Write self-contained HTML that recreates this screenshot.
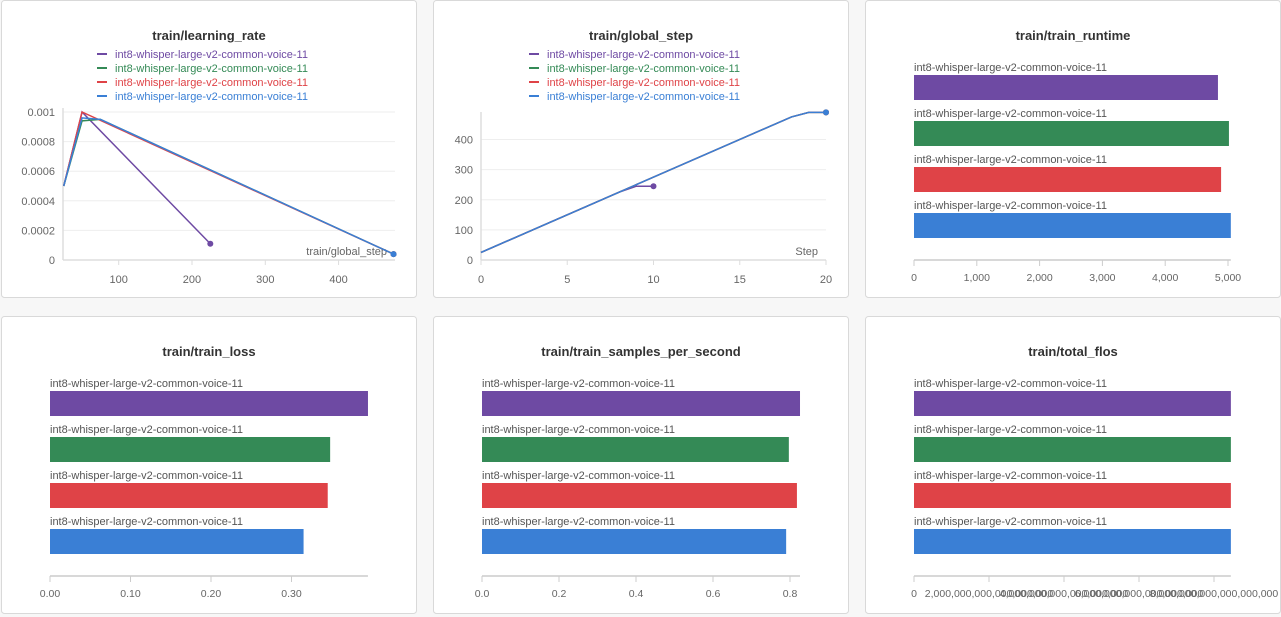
<!DOCTYPE html>
<html><head><meta charset="utf-8">
<style>
body{margin:0;background:#f7f7f7;font-family:"Liberation Sans",sans-serif;}
svg{position:absolute;left:0;top:0}
</style></head>
<body>
<svg id="s" width="1281" height="617"></svg>
<script>
const runName="int8-whisper-large-v2-common-voice-11";
const colors=["#6e4aa3","#348a56","#df4347","#3a7fd5"];
// chart 1: learning rate
const lrX=[[25,50,225],[25,50,75,475],[25,50,475],[25,50,75,475]];
const lrY=[[0.0005,0.001,0.00011],[0.0005,0.00094,0.00095,0.00004],[0.0005,0.001,0.00004],[0.0005,0.00096,0.00095,0.00004]];
const lrXTicks=[100,200,300,400];
const lrYTicks=[0,0.0002,0.0004,0.0006,0.0008,0.001];
const lrYLabels=["0","0.0002","0.0004","0.0006","0.0008","0.001"];
// chart 2: global step
const gsX=[[0,1,2,3,4,5,6,7,8,9,10],[0,18,19,20],[0,18,19,20],[0,18,19,20]];
const gsY=[[25,50,75,100,125,150,175,200,225,245,245],[25,475,490,490],[25,475,490,490],[25,475,490,490]];
const gsXTicks=[0,5,10,15,20];
const gsYTicks=[0,100,200,300,400];
// bar charts
const runtimeVals=[4840,5015,4890,5045];
const runtimeTicks=[0,1000,2000,3000,4000,5000];
const runtimeLabels=["0","1,000","2,000","3,000","4,000","5,000"];
const lossVals=[0.395,0.348,0.345,0.315];
const lossTicks=[0,0.1,0.2,0.3];
const lossLabels=["0.00","0.10","0.20","0.30"];
const spsVals=[0.826,0.797,0.818,0.79];
const spsTicks=[0,0.2,0.4,0.6,0.8];
const spsLabels=["0.0","0.2","0.4","0.6","0.8"];
const flosVals=[8.45e18,8.45e18,8.45e18,8.45e18];
const flosTicks=[0,2e18,4e18,6e18,8e18];
const flosLabels=["0","2,000,000,000,000,000,000","4,000,000,000,000,000,000","6,000,000,000,000,000,000","8,000,000,000,000,000,000"];

const S=document.getElementById('s');const NS="http://www.w3.org/2000/svg";
function el(t,a,p){const e=document.createElementNS(NS,t);for(const k in a)e.setAttribute(k,a[k]);(p||S).appendChild(e);return e;}
function txt(x,y,s,a,p){const e=el('text',Object.assign({x:x,y:y,'font-size':11,fill:'#666','font-family':'"Liberation Sans",sans-serif'},a),p);e.textContent=s;return e;}

function panel(x,y,title,name){
  const g=el('g',{});
  
  
  const r=el('rect',{x:x+0.5,y:y+0.5,width:415,height:297,rx:3,fill:'#fff',stroke:'#d9d9d9'},g);
  
  
  const t=txt(x+208,y+40,title,{'font-size':13,'font-weight':'bold',fill:'#333','text-anchor':'middle'},g);
  
  
  return g;
}
function legend(g,cx,y0){
  for(let i=0;i<4;i++){
    const lg=el('g',{},g);
    
    
    el('line',{x1:cx-120,x2:cx-110,y1:y0+i*14-4,y2:y0+i*14-4,stroke:colors[i],'stroke-width':2},lg);
    txt(cx-102,y0+i*14,runName,{fill:colors[i]},lg);
  }
}
function lineChart(g,o){
  const sx=v=>o.x0+(v-o.xmin)*(o.x1-o.x0)/(o.xmax-o.xmin);
  const sy=v=>o.y0-(v-o.ymin)*(o.y0-o.y1)/(o.ymax-o.ymin);
  o.yt.forEach((v,i)=>{
    el('line',{x1:o.x0,x2:o.xr,y1:sy(v),y2:sy(v),stroke:'#eee'},g);
    const t=txt(o.x0-8,sy(v)+4,o.yl?o.yl[i]:String(v),{'text-anchor':'end'},g);
    
    
  });
  el('line',{x1:o.x0,x2:o.x0,y1:o.yTop,y2:o.y0,stroke:'#ddd','stroke-width':1.5},g);
  el('line',{x1:o.x0,x2:o.xr,y1:o.y0,y2:o.y0,stroke:'#ddd','stroke-width':1.5},g);
  o.xt.forEach(v=>{
    el('line',{x1:sx(v),x2:sx(v),y1:o.y0,y2:o.y0+5,stroke:'#ddd'},g);
    const t=txt(sx(v),o.y0+23,String(v),{'text-anchor':'middle'},g);
    
    
  });
  const at=txt(o.xr-8,o.y0-5,o.xlabel,{'text-anchor':'end'},g);
  
  
  for(let i=0;i<4;i++){
    const pts=o.X[i].map((v,j)=>sx(v)+','+sy(o.Y[i][j])).join(' ');
    const pl=el('polyline',{points:pts,fill:'none',stroke:colors[i],'stroke-width':1.5},g);
    
    
    const n=o.X[i].length-1;
    el('circle',{cx:sx(o.X[i][n]),cy:sy(o.Y[i][n]),r:3,fill:colors[i]},g);
  }
}
function barChart(g,px,py,vals,ticks,labels,xmax,xend){
  const x0=px+49,x1=px+xend;
  const sx=v=>x0+v*(x1-x0)/xmax;
  for(let i=0;i<4;i++){
    const lt=txt(x0,py+71+i*46,runName,{fill:'#555'},g);
    
    
    const b=el('rect',{x:x0,y:py+75+i*46,width:sx(vals[i])-x0,height:25,fill:colors[i]},g);
    
    
  }
  const axEnd=Math.max(sx(Math.max(...vals)),sx(ticks[ticks.length-1]));
  el('line',{x1:x0,x2:axEnd,y1:py+260,y2:py+260,stroke:'#ccc','stroke-width':1.5},g);
  ticks.forEach((v,i)=>{
    el('line',{x1:sx(v),x2:sx(v),y1:py+260,y2:py+266,stroke:'#ccc'},g);
    const t=txt(sx(v),py+281,labels[i],{'text-anchor':'middle','font-size':10.5},g);
    
    
  });
}
// panels
let g=panel(1,0,"train/learning_rate","learning-rate-chart");legend(g,217,58);
lineChart(g,{X:lrX,Y:lrY,xmin:24,xmax:477,x0:63,x1:395,xr:395,ymin:0,ymax:0.001,y0:260,y1:112,yTop:108,xt:lrXTicks,yt:lrYTicks,yl:lrYLabels,xlabel:"train/global_step"});
g=panel(433,0,"train/global_step","global-step-chart");legend(g,649,58);
lineChart(g,{X:gsX,Y:gsY,xmin:0,xmax:20,x0:481,x1:826,xr:826,ymin:0,ymax:400,y0:260,y1:139.5,yTop:112,xt:gsXTicks,yt:gsYTicks,xlabel:"Step"});
g=panel(865,0,"train/train_runtime","train-runtime-chart");
barChart(g,865,0,runtimeVals,runtimeTicks,runtimeLabels,5000,363);
g=panel(1,316,"train/train_loss","train-loss-chart");
barChart(g,1,316,lossVals,lossTicks,lossLabels,0.1,129.5);
g=panel(433,316,"train/train_samples_per_second","samples-per-second-chart");
barChart(g,433,316,spsVals,spsTicks,spsLabels,0.8,357);
g=panel(865,316,"train/total_flos","total-flos-chart");
barChart(g,865,316,flosVals,flosTicks,flosLabels,2e18,124);
</script>
</body></html>
